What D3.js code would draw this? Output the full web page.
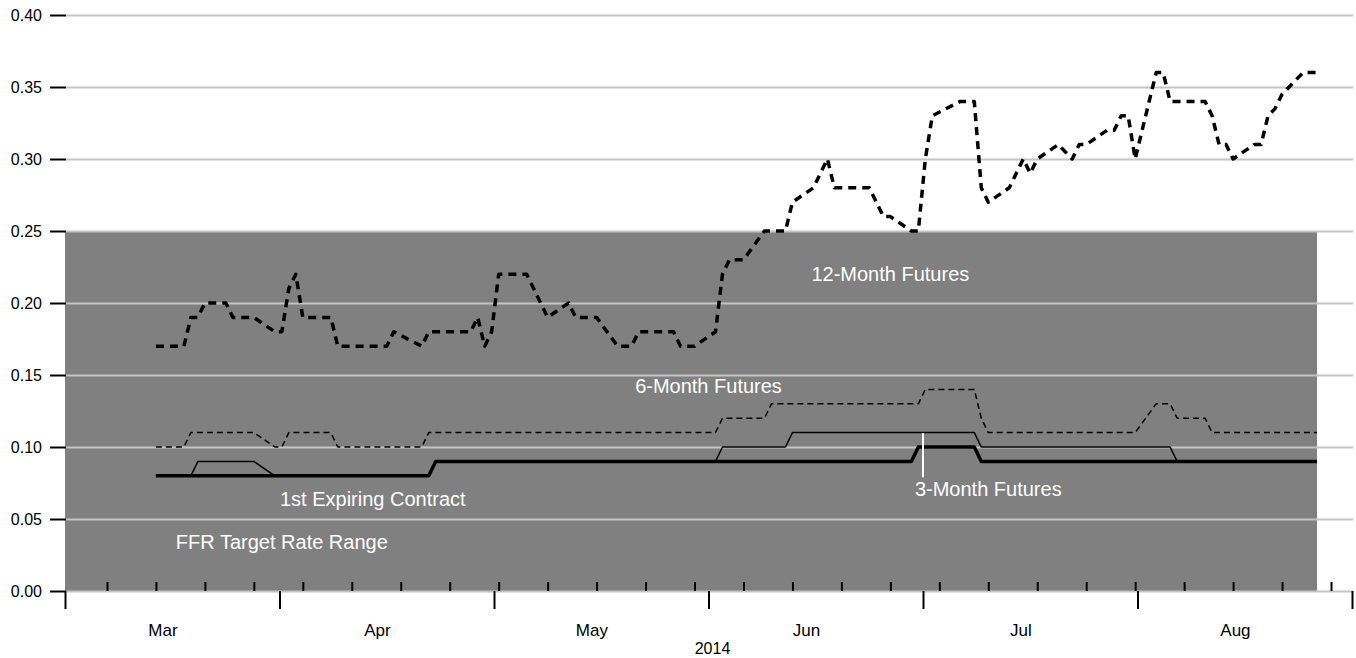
<!DOCTYPE html>
<html>
<head>
<meta charset="utf-8">
<script src="https://cdn.jsdelivr.net/npm/d3@7"></script>
<style>
  html, body { margin: 0; padding: 0; background: #ffffff; }
  svg { display: block; font-family: "Liberation Sans", Arial, Helvetica, sans-serif; }
</style>
</head>
<body>
<svg id="chart" width="1356" height="658"></svg>
<script>
// ---------------- DATA ----------------
const dates = [
  "2014-03-14","2014-03-17","2014-03-18","2014-03-19","2014-03-20","2014-03-21","2014-03-24","2014-03-25","2014-03-26","2014-03-27","2014-03-28","2014-03-31",
  "2014-04-01","2014-04-02","2014-04-03","2014-04-04","2014-04-07","2014-04-08","2014-04-09","2014-04-10","2014-04-11","2014-04-14","2014-04-15","2014-04-16","2014-04-17","2014-04-21","2014-04-22","2014-04-23","2014-04-24","2014-04-25","2014-04-28","2014-04-29","2014-04-30",
  "2014-05-01","2014-05-02","2014-05-05","2014-05-06","2014-05-07","2014-05-08","2014-05-09","2014-05-12","2014-05-13","2014-05-14","2014-05-15","2014-05-16","2014-05-19","2014-05-20","2014-05-21","2014-05-22","2014-05-23","2014-05-27","2014-05-28","2014-05-29","2014-05-30",
  "2014-06-02","2014-06-03","2014-06-04","2014-06-05","2014-06-06","2014-06-09","2014-06-10","2014-06-11","2014-06-12","2014-06-13","2014-06-16","2014-06-17","2014-06-18","2014-06-19","2014-06-20","2014-06-23","2014-06-24","2014-06-25","2014-06-26","2014-06-27","2014-06-30",
  "2014-07-01","2014-07-02","2014-07-03","2014-07-07","2014-07-08","2014-07-09","2014-07-10","2014-07-11","2014-07-14","2014-07-15","2014-07-16","2014-07-17","2014-07-18","2014-07-21","2014-07-22","2014-07-23","2014-07-24","2014-07-25","2014-07-28","2014-07-29","2014-07-30","2014-07-31",
  "2014-08-01","2014-08-04","2014-08-05","2014-08-06","2014-08-07","2014-08-08","2014-08-11","2014-08-12","2014-08-13","2014-08-14","2014-08-15","2014-08-18","2014-08-19","2014-08-20","2014-08-21","2014-08-22","2014-08-25","2014-08-26","2014-08-27"
];

const futures12M = [
  0.17,0.17,0.17,0.19,0.19,0.20,0.20,0.19,0.19,0.19,0.19,0.18,
  0.18,0.21,0.22,0.19,0.19,0.19,0.17,0.17,0.17,0.17,0.17,0.17,0.18,0.17,0.18,0.18,0.18,0.18,0.18,0.19,0.17,
  0.18,0.22,0.22,0.22,0.21,0.20,0.19,0.20,0.19,0.19,0.19,0.19,0.17,0.17,0.17,0.18,0.18,0.18,0.17,0.17,0.17,
  0.18,0.22,0.23,0.23,0.23,0.25,0.25,0.25,0.25,0.27,0.28,0.29,0.30,0.28,0.28,0.28,0.28,0.27,0.26,0.26,0.25,
  0.25,0.30,0.33,0.34,0.34,0.34,0.28,0.27,0.28,0.29,0.30,0.29,0.30,0.31,0.305,0.30,0.31,0.31,0.32,0.32,0.33,0.33,
  0.30,0.36,0.36,0.34,0.34,0.34,0.34,0.33,0.31,0.31,0.30,0.31,0.31,0.33,0.335,0.345,0.36,0.36,0.36
];

const futures6M = [
  0.10,0.10,0.10,0.11,0.11,0.11,0.11,0.11,0.11,0.11,0.11,0.10,
  0.10,0.11,0.11,0.11,0.11,0.11,0.10,0.10,0.10,0.10,0.10,0.10,0.10,0.10,0.11,0.11,0.11,0.11,0.11,0.11,0.11,
  0.11,0.11,0.11,0.11,0.11,0.11,0.11,0.11,0.11,0.11,0.11,0.11,0.11,0.11,0.11,0.11,0.11,0.11,0.11,0.11,0.11,
  0.11,0.12,0.12,0.12,0.12,0.12,0.13,0.13,0.13,0.13,0.13,0.13,0.13,0.13,0.13,0.13,0.13,0.13,0.13,0.13,0.13,
  0.13,0.14,0.14,0.14,0.14,0.14,0.12,0.11,0.11,0.11,0.11,0.11,0.11,0.11,0.11,0.11,0.11,0.11,0.11,0.11,0.11,0.11,
  0.11,0.13,0.13,0.13,0.12,0.12,0.12,0.11,0.11,0.11,0.11,0.11,0.11,0.11,0.11,0.11,0.11,0.11,0.11
];

const futures3M = [
  0.08,0.08,0.08,0.08,0.09,0.09,0.09,0.09,0.09,0.09,0.09,0.08,
  0.08,0.08,0.08,0.08,0.08,0.08,0.08,0.08,0.08,0.08,0.08,0.08,0.08,0.08,0.08,0.09,0.09,0.09,0.09,0.09,0.09,
  0.09,0.09,0.09,0.09,0.09,0.09,0.09,0.09,0.09,0.09,0.09,0.09,0.09,0.09,0.09,0.09,0.09,0.09,0.09,0.09,0.09,
  0.09,0.10,0.10,0.10,0.10,0.10,0.10,0.10,0.10,0.11,0.11,0.11,0.11,0.11,0.11,0.11,0.11,0.11,0.11,0.11,0.11,
  0.11,0.11,0.11,0.11,0.11,0.11,0.10,0.10,0.10,0.10,0.10,0.10,0.10,0.10,0.10,0.10,0.10,0.10,0.10,0.10,0.10,0.10,
  0.10,0.10,0.10,0.10,0.09,0.09,0.09,0.09,0.09,0.09,0.09,0.09,0.09,0.09,0.09,0.09,0.09,0.09,0.09
];

const firstExpiring = [
  0.08,0.08,0.08,0.08,0.08,0.08,0.08,0.08,0.08,0.08,0.08,0.08,
  0.08,0.08,0.08,0.08,0.08,0.08,0.08,0.08,0.08,0.08,0.08,0.08,0.08,0.08,0.08,0.09,0.09,0.09,0.09,0.09,0.09,
  0.09,0.09,0.09,0.09,0.09,0.09,0.09,0.09,0.09,0.09,0.09,0.09,0.09,0.09,0.09,0.09,0.09,0.09,0.09,0.09,0.09,
  0.09,0.09,0.09,0.09,0.09,0.09,0.09,0.09,0.09,0.09,0.09,0.09,0.09,0.09,0.09,0.09,0.09,0.09,0.09,0.09,0.09,
  0.10,0.10,0.10,0.10,0.10,0.10,0.09,0.09,0.09,0.09,0.09,0.09,0.09,0.09,0.09,0.09,0.09,0.09,0.09,0.09,0.09,0.09,
  0.09,0.09,0.09,0.09,0.09,0.09,0.09,0.09,0.09,0.09,0.09,0.09,0.09,0.09,0.09,0.09,0.09,0.09,0.09
];

const ffrRange = [0.00, 0.25];
const yTickValues = [0.00, 0.05, 0.10, 0.15, 0.20, 0.25, 0.30, 0.35, 0.40];
const monthLabels = ["Mar", "Apr", "May", "Jun", "Jul", "Aug"];
const yearLabel = "2014";
const axisStart = "2014-03-01";
const axisEnd = "2014-09-01";

// ---------------- CHART ----------------
(function () {
const parse = d3.utcParse("%Y-%m-%d");
const t = dates.map(parse);
const t0 = parse(axisStart), t1 = parse(axisEnd);

const svg = d3.select("#chart");
const mLeft = 65, mRight = 1352, mTop = 15, mBottom = 591;

const x = d3.scaleUtc().domain([t0, t1]).range([mLeft, mRight]);
const y = d3.scaleLinear().domain([0, 0.40]).range([mBottom, mTop]);

const FONT = '"Liberation Sans", Arial, Helvetica, sans-serif';

// FFR target range band
svg.append("rect")
  .attr("x", x(t0))
  .attr("y", y(ffrRange[1]))
  .attr("width", x(t[t.length - 1]) - x(t0))
  .attr("height", y(ffrRange[0]) - y(ffrRange[1]))
  .attr("fill", "#808080");

// gridlines
const grid = svg.append("g")
  .attr("transform", `translate(${mLeft + 1},0)`)
  .call(d3.axisRight(y).tickValues(yTickValues).tickSize(mRight - mLeft).tickFormat(""));
grid.select(".domain").remove();
grid.selectAll(".tick line").attr("stroke", "#c4c4c4").attr("stroke-width", 2);

// series
const series = [
  { values: futures6M,     width: 1.5, dash: "6,4" },
  { values: futures3M,     width: 1.5, dash: null },
  { values: firstExpiring, width: 3.5, dash: null },
  { values: futures12M,    width: 3.5, dash: "8,6" }
];
series.forEach(s => {
  const line = d3.line()
    .x((d, i) => x(t[i]))
    .y(d => y(d));
  svg.append("path")
    .datum(s.values)
    .attr("d", line)
    .attr("fill", "none")
    .attr("stroke", "#000")
    .attr("stroke-width", s.width)
    .attr("stroke-dasharray", s.dash)
    .attr("stroke-linejoin", "round");
});

// major ticks (evenly spaced over the axis)
const majorTicks = d3.range(7).map(i => new Date(+t0 + i * (t1 - t0) / 6));

// leader from label to 3-month line
svg.append("line")
  .attr("x1", x(majorTicks[4])).attr("x2", x(majorTicks[4]))
  .attr("y1", y(0.1095)).attr("y2", y(0.079))
  .attr("stroke", "#ffffff").attr("stroke-width", 2);

// in-plot labels
const labels = [
  { text: "12-Month Futures",      date: "2014-06-27", value: 0.2153 },
  { text: "6-Month Futures",       date: "2014-06-01", value: 0.1375 },
  { text: "3-Month Futures",       date: "2014-07-11", value: 0.066 },
  { text: "1st Expiring Contract", date: "2014-04-14", value: 0.059 },
  { text: "FFR Target Rate Range", date: "2014-04-01", value: 0.029 }
];
svg.append("g").selectAll("text").data(labels).join("text")
  .attr("x", d => x(parse(d.date)))
  .attr("y", d => y(d.value))
  .attr("text-anchor", "middle")
  .attr("fill", "#ffffff")
  .attr("font-family", FONT)
  .attr("font-size", 20)
  .text(d => d.text);

// y axis
const yAxis = svg.append("g")
  .attr("transform", `translate(${mLeft + 1},0)`)
  .call(d3.axisLeft(y).tickValues(yTickValues).tickFormat(d3.format(".2f")).tickSize(16).tickPadding(8));
yAxis.select(".domain").remove();
yAxis.selectAll(".tick line").attr("stroke", "#000").attr("stroke-width", 2);
yAxis.selectAll(".tick text").attr("font-family", FONT).attr("font-size", 16).attr("fill", "#000");

// x axis: major ticks down
const xMajor = svg.append("g")
  .attr("transform", `translate(0,${mBottom})`)
  .call(d3.axisBottom(x).tickValues(majorTicks).tickSize(18).tickFormat(""));
xMajor.select(".domain").remove();
xMajor.selectAll(".tick line").attr("stroke", "#000").attr("stroke-width", 2);

// x axis: minor weekly ticks up
const minorTicks = d3.utcFriday.range(t0, t1);
const xMinor = svg.append("g")
  .attr("transform", `translate(0,${mBottom})`)
  .call(d3.axisTop(x).tickValues(minorTicks).tickSize(9).tickFormat(""));
xMinor.select(".domain").remove();
xMinor.selectAll(".tick line").attr("stroke", "#000").attr("stroke-width", 2);

// month labels
svg.append("g").selectAll("text").data(monthLabels).join("text")
  .attr("x", (d, i) => x(d3.utcDay.offset(majorTicks[i], 14)))
  .attr("y", 636)
  .attr("text-anchor", "middle")
  .attr("font-family", FONT)
  .attr("font-size", 17)
  .attr("fill", "#000")
  .text(d => d);

svg.append("text")
  .attr("x", x(majorTicks[3]) + 4)
  .attr("y", 654)
  .attr("text-anchor", "middle")
  .attr("font-family", FONT)
  .attr("font-size", 16)
  .attr("fill", "#000")
  .text(yearLabel);
})();
</script>
</body>
</html>
